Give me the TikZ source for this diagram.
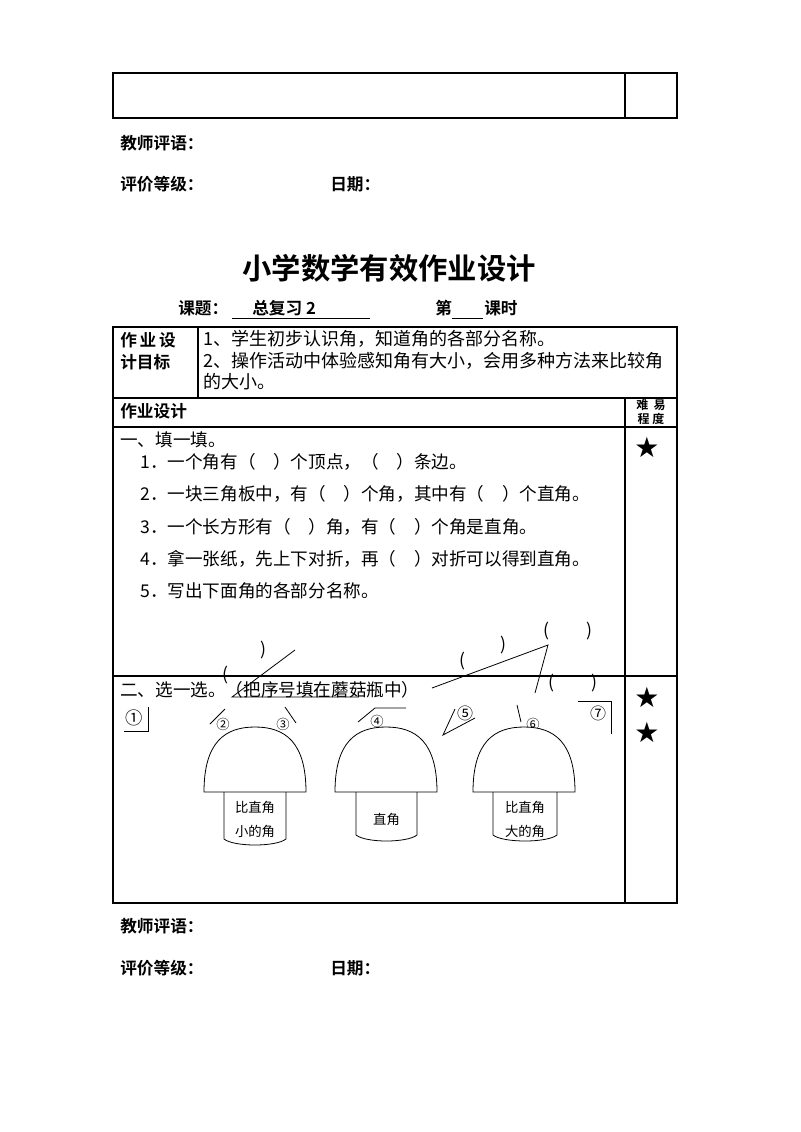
\documentclass[tikz,border=0pt]{standalone}
\usepackage{fontspec}
\setmainfont{Noto Sans CJK SC}
\newfontfamily\cjkb{Noto Sans CJK SC Bold}
\newfontfamily\symf{DejaVu Sans}
\begin{document}
\begin{tikzpicture}[x=0.75pt,y=-0.75pt,
  txt/.style={anchor=west,inner sep=0pt,font=\fontsize{13.2}{15}\selectfont},
  gtxt/.style={anchor=west,inner sep=0pt,font=\fontsize{13.5}{15}\selectfont},
  btxt/.style={anchor=west,inner sep=0pt,font=\cjkb\fontsize{12.5}{14}\selectfont},
  star/.style={inner sep=0pt,font=\symf\fontsize{21}{21}\selectfont},
  ln/.style={line width=0.8pt},
  thin/.style={line width=0.6pt},
  mtxt/.style={inner sep=0pt,font=\fontsize{10}{18}\selectfont,align=center}]
\useasboundingbox (0,0) rectangle (800,1132);
% top box
\draw[ln] (113,73) rectangle (677,118);
\draw[ln] (625,73) -- (625,118);
\node[btxt] (t1) at (120,143) {教师评语：};
\node[btxt] (t2) at (120,184) {评价等级：};
\node[btxt] (t3) at (330,184) {日期：};
\node[inner sep=0pt,font=\cjkb\fontsize{22}{24}\selectfont] (title) at (389,268) {小学数学有效作业设计};
\node[btxt] (k1) at (178,308) {课题：};
\node[btxt] (k2) at (252,308) {总复习 2};
\draw[thin] (232,318) -- (370,318);
\node[btxt] (k3) at (435,308) {第};
\draw[thin] (452,318) -- (483,318);
\node[btxt] (k4) at (484,308) {课时};
% main table
\draw[ln] (113,327) rectangle (677,903);
\draw[ln] (198,327) -- (198,398);
\draw[ln] (113,398) -- (677,398);
\draw[ln] (113,427) -- (677,427);
\draw[ln] (113,676) -- (677,676);
\draw[ln] (625,398) -- (625,903);
\node[btxt] (g1) at (120,340) {作\,业\,设};
\node[btxt] (g2) at (120,362) {计目标};
\node[gtxt] (o1) at (203,339) {1、学生初步认识角，知道角的各部分名称。};
\node[gtxt] (o2) at (203,361) {2、操作活动中体验感知角有大小，会用多种方法来比较角};
\node[gtxt] (o3) at (203,382) {的大小。};
\node[btxt] (h1) at (120,411) {作业设计};
\node[inner sep=0pt,font=\cjkb\fontsize{9}{10}\selectfont] (h2) at (651,405) {难\ \ 易};
\node[inner sep=0pt,font=\cjkb\fontsize{9}{10}\selectfont] (h3) at (651,419) {程\ 度};
\node[txt] (s1) at (120,440) {一、填一填。};
\node[txt] (q1) at (140,462) {1．一个角有（\quad）个顶点，（\quad）条边。};
\node[txt] (q2) at (140,494) {2．一块三角板中，有（\quad）个角，其中有（\quad）个直角。};
\node[txt] (q3) at (140,527) {3．一个长方形有（\quad）角，有（\quad）个角是直角。};
\node[txt] (q4) at (140,559) {4．拿一张纸，先上下对折，再（\quad）对折可以得到直角。};
\node[txt] (q5) at (140,591) {5．写出下面角的各部分名称。};
\node[star] (st1) at (647,447) {★};
\node[star] (st2) at (647,697) {★};
\node[star] (st3) at (647,732) {★};
\node[txt] (s2) at (120,690) {二、选一选。（把序号填在蘑菇瓶中）};
% angle drawings of question 5
\coordinate (va) at (232,697);
\coordinate (aa) at (295,650);
\coordinate (ab) at (358,697);
\draw[thin] (aa) -- (va) -- (ab);
\node[txt] (pa1) at (222,675) {(};
\node[txt] (pa2) at (260,650) {)};
\coordinate (vb) at (548,645);
\coordinate (ba) at (432,688);
\coordinate (bb) at (535,693);
\draw[thin] (ba) -- (vb) -- (bb);
\node[txt] (pb1) at (459,661) {(};
\node[txt] (pb2) at (500,645) {)};
\node[txt] (pb3) at (543,631) {(\hspace{28pt})};
\node[txt] (pb4) at (548,683) {(\hspace{28pt})};
% small angles
\node[inner sep=0pt,font=\fontsize{13}{13}\selectfont] (n1) at (134,718) {①};
\draw[thin] (148,707) -- (148,731) -- (124,731);
\node[inner sep=0pt,font=\fontsize{10}{10}\selectfont] (n2) at (223,724) {②};
\draw[thin] (210,724) -- (225,709);
\node[inner sep=0pt,font=\fontsize{10}{10}\selectfont] (n3) at (283,724) {③};
\draw[thin] (285,707) -- (296,723);
\node[inner sep=0pt,font=\fontsize{10}{10}\selectfont] (n4) at (377,721) {④};
\draw[thin] (358,722) -- (375,708) -- (406,708);
\node[inner sep=0pt,font=\fontsize{12}{12}\selectfont] (n5) at (465,713) {⑤};
\draw[thin] (455,709) -- (443,735) -- (475,718);
\node[inner sep=0pt,font=\fontsize{10}{10}\selectfont] (n6) at (533,724) {⑥};
\draw[thin] (517,705) -- (521,722);
\node[inner sep=0pt,font=\fontsize{12}{12}\selectfont] (n7) at (598,713) {⑦};
\draw[thin] (578,701) -- (611,701) -- (611,734);
% mushrooms
\foreach \cx/\sl/\sr/\sb/\lab in {255/224/286/847/{比直角\\小的角},386/356/417/843/{直角},524/493/557/843/{比直角\\大的角}}{
  \draw[thin,fill=white] (\cx-51,792) .. controls (\cx-51,742) and (\cx-30,727) .. (\cx,727)
     .. controls (\cx+30,727) and (\cx+51,742) .. (\cx+51,792) -- cycle;
  \draw[thin] (\sl,792) -- (\sl,\sb-8) .. controls (\sl+10,\sb) and (\sr-10,\sb) .. (\sr,\sb-8) -- (\sr,792);
  \node[mtxt] at ({(\sl+\sr)/2},819) {\lab};
}
\node[btxt] (t4) at (120,926) {教师评语：};
\node[btxt] (t5) at (120,968) {评价等级：};
\node[btxt] (t6) at (330,968) {日期：};
\end{tikzpicture}
\end{document}
